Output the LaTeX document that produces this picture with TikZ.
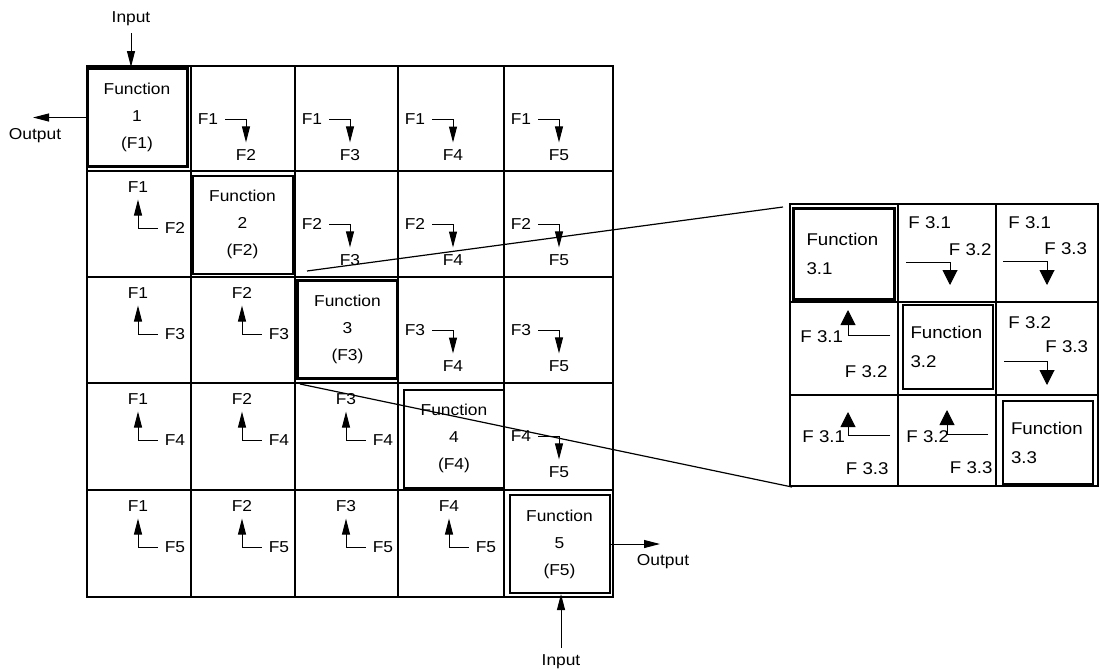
\documentclass[tikz,border=0pt]{standalone}
\usepackage{fontspec}
\setmainfont{Liberation Sans}[FakeStretch=1.1]
\usetikzlibrary{arrows.meta}
\tikzset{
	gridline/.style={line width=0.75pt},
	zoomline/.style={line width=0.6pt}
}
\tikzset{
	funbox/.style={draw, line width=1pt, minimum width=50pt, minimum height=49pt,
			align=center, font=\fontsize{7.9}{13.5}\selectfont},
	subbox/.style={draw, line width=1pt, align=left, text width=37pt, inner xsep=4pt,
			font=\fontsize{8.5}{14.5}\selectfont}
}
\tikzset{
	smalltext/.style={font=\fontsize{7.9}{9}\selectfont},
	subtext/.style={font=\fontsize{8.5}{10}\selectfont, inner sep=0pt}
}
\tikzset{
	cellarrow/.style={line width=0.5pt, -{Triangle[length=8pt,width=4pt]}},
	bigarrow/.style={line width=0.5pt, -{Triangle[length=7.5pt,width=7.5pt]}}
}

\begin{document}
\begin{tikzpicture}[x=0.5pt, y=-0.5pt]
	\useasboundingbox (0,0) rectangle (1099,670);

	% main matrix
	\begin{scope}
		\draw[gridline] (87,66) rectangle (613,597);
		\draw[gridline] (191,66) -- (191,597);
		\draw[gridline] (295,66) -- (295,597);
		\draw[gridline] (398,66) -- (398,597);
		\draw[gridline] (504,66) -- (504,597);
		\draw[gridline] (87,171) -- (613,171);
		\draw[gridline] (87,277) -- (613,277);
		\draw[gridline] (87,383) -- (613,383);
		\draw[gridline] (87,490) -- (613,490);
	\end{scope}

	\node[funbox, line width=1.5pt] (fn1) at (137,117.5) {Function\\1\\(F1)};
	\node[funbox] (fn2) at (242.5,224.5) {Function\\2\\(F2)};
	\node[funbox, line width=1.5pt] (fn3) at (347.5,329.5) {Function\\3\\(F3)};
	\node[funbox] (fn4) at (454,438.5) {Function\\4\\(F4)};
	\node[funbox] (fn5) at (559.5,544) {Function\\5\\(F5)};

	% row 1
	\node[smalltext] (t12) at (208,119) {F1};
	\node[smalltext] (s12) at (246,155) {F2};
	\node[smalltext] (t13) at (312,119) {F1};
	\node[smalltext] (s13) at (350,155) {F3};
	\node[smalltext] (t14) at (415,119) {F1};
	\node[smalltext] (s14) at (453,155) {F4};
	\node[smalltext] (t15) at (521,119) {F1};
	\node[smalltext] (s15) at (559,155) {F5};
	\draw[cellarrow] (t12) -| (s12);
	\draw[cellarrow] (t13) -| (s13);
	\draw[cellarrow] (t14) -| (s14);
	\draw[cellarrow] (t15) -| (s15);

	% row 2
	\node[smalltext] (t21) at (138,187) {F1};
	\node[smalltext] (s21) at (175,228) {F2};
	\node[smalltext] (t23) at (312,224) {F2};
	\node[smalltext] (s23) at (350,260) {F3};
	\node[smalltext] (t24) at (415,224) {F2};
	\node[smalltext] (s24) at (453,260) {F4};
	\node[smalltext] (t25) at (521,224) {F2};
	\node[smalltext] (s25) at (559,260) {F5};
	\draw[cellarrow] (s21) -| (t21);
	\draw[cellarrow] (t23) -| (s23);
	\draw[cellarrow] (t24) -| (s24);
	\draw[cellarrow] (t25) -| (s25);

	% row 3
	\node[smalltext] (t31) at (138,293) {F1};
	\node[smalltext] (s31) at (175,334) {F3};
	\node[smalltext] (t32) at (242,293) {F2};
	\node[smalltext] (s32) at (279,334) {F3};
	\node[smalltext] (t34) at (415,330) {F3};
	\node[smalltext] (s34) at (453,366) {F4};
	\node[smalltext] (t35) at (521,330) {F3};
	\node[smalltext] (s35) at (559,366) {F5};
	\draw[cellarrow] (s31) -| (t31);
	\draw[cellarrow] (s32) -| (t32);
	\draw[cellarrow] (t34) -| (s34);
	\draw[cellarrow] (t35) -| (s35);

	% row 4
	\node[smalltext] (t41) at (138,399) {F1};
	\node[smalltext] (s41) at (175,440) {F4};
	\node[smalltext] (t42) at (242,399) {F2};
	\node[smalltext] (s42) at (279,440) {F4};
	\node[smalltext] (t43) at (346,399) {F3};
	\node[smalltext] (s43) at (383,440) {F4};
	\node[smalltext] (t45) at (521,436) {F4};
	\node[smalltext] (s45) at (559,472) {F5};
	\draw[cellarrow] (s41) -| (t41);
	\draw[cellarrow] (s42) -| (t42);
	\draw[cellarrow] (s43) -| (t43);
	\draw[cellarrow] (t45) -| (s45);

	% row 5
	\node[smalltext] (t51) at (138,506) {F1};
	\node[smalltext] (s51) at (175,547) {F5};
	\node[smalltext] (t52) at (242,506) {F2};
	\node[smalltext] (s52) at (279,547) {F5};
	\node[smalltext] (t53) at (346,506) {F3};
	\node[smalltext] (s53) at (383,547) {F5};
	\node[smalltext] (t54) at (449,506) {F4};
	\node[smalltext] (s54) at (486,547) {F5};
	\draw[cellarrow] (s51) -| (t51);
	\draw[cellarrow] (s52) -| (t52);
	\draw[cellarrow] (s53) -| (t53);
	\draw[cellarrow] (s54) -| (t54);

	% inputs and outputs
	\node[smalltext] (in1) at (131,19) {Input};
	\node[smalltext] (out1) at (35,136) {Output};
	\node[smalltext] (in5) at (561,662) {Input};
	\node[smalltext] (out5) at (663,562) {Output};
	\coordinate (o1) at (33,117.5);
	\coordinate (o5) at (660,544);
	\draw[cellarrow] (in1) -- (in1 |- fn1.north);
	\draw[cellarrow] (fn1) -- (o1);
	\draw[cellarrow] (in5) -- (in5 |- fn5.south);
	\draw[cellarrow] (fn5) -- (o5);

	% function 3 in detail
	\begin{scope}
		\draw[gridline] (790,204) rectangle (1098,486);
		\draw[gridline] (898,204) -- (898,486);
		\draw[gridline] (996,204) -- (996,486);
		\draw[gridline] (790,302) -- (1098,302);
		\draw[gridline] (790,395) -- (1098,395);
	\end{scope}

	\node[subbox, line width=1.5pt, minimum width=50.5pt, minimum height=45.5pt] (fr1) at (843.5,253.5) {Function\\3.1};
	\node[subbox, minimum width=44.5pt, minimum height=42pt] (fr2) at (947.5,347) {Function\\3.2};
	\node[subbox, minimum width=45pt, minimum height=41.5pt] (fr3) at (1048,442.5) {Function\\3.3};

	\node[subtext, anchor=west] (p12) at (908,223) {F 3.1};
	\node[subtext, anchor=east] (r12) at (992,250) {F 3.2};
	\node[subtext, anchor=west] (p13) at (1008,223) {F 3.1};
	\node[subtext, anchor=west] (r13) at (1044,249) {F 3.3};
	\node[subtext, anchor=west] (p23) at (1008,323) {F 3.2};
	\node[subtext, anchor=west] (r23) at (1045,347) {F 3.3};
	\node[subtext, anchor=west] (p21) at (800,337) {F 3.1};
	\node[subtext, anchor=east] (r21) at (888,372) {F 3.2};
	\node[subtext, anchor=west] (p31) at (802,437) {F 3.1};
	\node[subtext, anchor=east] (r31) at (889,469) {F 3.3};
	\node[subtext, anchor=west] (p32) at (906,437) {F 3.2};
	\node[subtext, anchor=east] (r32) at (993,468) {F 3.3};

	\coordinate (q12a) at (906,262);
	\coordinate (q12b) at (950,285);
	\coordinate (q13a) at (1003,261);
	\coordinate (q13b) at (1047,285);
	\coordinate (q23a) at (1004,361);
	\coordinate (q23b) at (1047,385);
	\coordinate (q21a) at (890,335);
	\coordinate (q21b) at (848,310);
	\coordinate (q31a) at (890,435);
	\coordinate (q31b) at (848,412);
	\coordinate (q32a) at (988,434);
	\coordinate (q32b) at (947,410);
	\draw[bigarrow] (q12a) -| (q12b);
	\draw[bigarrow] (q13a) -| (q13b);
	\draw[bigarrow] (q23a) -| (q23b);
	\draw[bigarrow] (q21a) -| (q21b);
	\draw[bigarrow] (q31a) -| (q31b);
	\draw[bigarrow] (q32a) -| (q32b);

	% zoom lines
	\coordinate (za) at (307,271);
	\coordinate (zb) at (783,207);
	\coordinate (zc) at (300,384);
	\coordinate (zd) at (792,487);
	\draw[zoomline] (za) -- (zb);
	\draw[zoomline] (zc) -- (zd);

\end{tikzpicture}
\end{document}
